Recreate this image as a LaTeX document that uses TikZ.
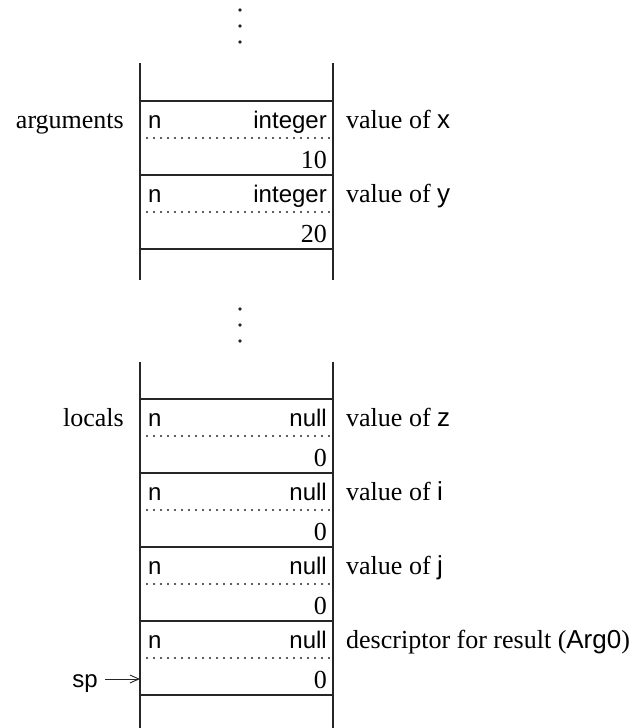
\documentclass[tikz,border=0pt]{standalone}
\usepackage{fontspec}
\setmainfont{Liberation Serif}
\setsansfont{Liberation Sans}
\usepackage{tikz}
\usetikzlibrary{arrows.meta,positioning}
\tikzset{
  stackwall/.style={line width=1.2pt, draw=black!85},
  stackslot/.style={draw=black!85, line width=1.2pt, minimum width=193pt,
    minimum height=74pt, inner sep=0pt, outer sep=0pt},
  stackdots/.style={line width=2.2pt, line cap=round, draw=black!85,
    dash pattern=on 0pt off 7pt},
  stackgap/.style={circle, fill=black!85, inner sep=0pt, minimum size=3.6pt},
  slottag/.style={inner sep=0pt, font=\sffamily\fontsize{24}{29}\selectfont},
  slotval/.style={inner sep=0pt, font=\fontsize{26}{31}\selectfont},
  sidetag/.style={inner sep=0pt, font=\fontsize{26}{31}\selectfont},
  spptr/.style={-{Straight Barb[length=9pt,width=8pt]}, line width=0.9pt,
    draw=black!85}
}

\begin{document}
\begin{tikzpicture}[x=1pt, y=-1pt]
  \useasboundingbox (0,0) rectangle (636,728);

  % dots between the frames
  \foreach \dy in {10,26,42} {
    \node[stackgap] (topgap\dy) at (240,\dy) {};
  }
  \foreach \dy in {309,325,341} {
    \node[stackgap] (midgap\dy) at (240,\dy) {};
  }

  % walls of the stack
  \draw[stackwall] (140,63) -- (140,280);
  \draw[stackwall] (333,63) -- (333,280);
  \draw[stackwall] (140,362) -- (140,728);
  \draw[stackwall] (333,362) -- (333,728);

  % one slot per descriptor
  \foreach \top/\name/\kind/\val/\what in {
      101/x/integer/10/{value of \textsf{x}},
      175/y/integer/20/{value of \textsf{y}},
      399/z/null/0/{value of \textsf{z}},
      473/i/null/0/{value of \textsf{i}},
      547/j/null/0/{value of \textsf{j}},
      621/r/null/0/{descriptor for result (\textsf{Arg0})}} {
    \node[stackslot, anchor=north west] (slot\name) at (140,\top) {};
    \draw[stackdots] ([xshift=7pt,yshift=-37pt]slot\name.north west)
      -- ([xshift=-3pt,yshift=-37pt]slot\name.north east);
    \node[slottag, anchor=base west] (n\name)
      at ([xshift=8pt,yshift=-27pt]slot\name.north west) {n};
    \node[slottag, anchor=base east] (k\name)
      at ([xshift=-6pt,yshift=-27pt]slot\name.north east) {\kind};
    \node[slotval, anchor=base east] (v\name)
      at ([xshift=-6pt,yshift=-67pt]slot\name.north east) {\val};
    \node[sidetag, anchor=base west] (d\name)
      at ([xshift=13pt,yshift=-27pt]slot\name.north east) {\what};
  }

  \node[sidetag, anchor=base east] (arglabel) at (124,128) {arguments};
  \node[sidetag, anchor=base east] (loclabel) at (124,426) {locals};

  % stack pointer
  \coordinate (sptip) at (140,679);
  \node[slottag, anchor=base east] (sp) at (98,687) {sp};
  \draw[spptr] ([xshift=7pt]sp.east |- sptip) -- (sptip);
\end{tikzpicture}
\end{document}
